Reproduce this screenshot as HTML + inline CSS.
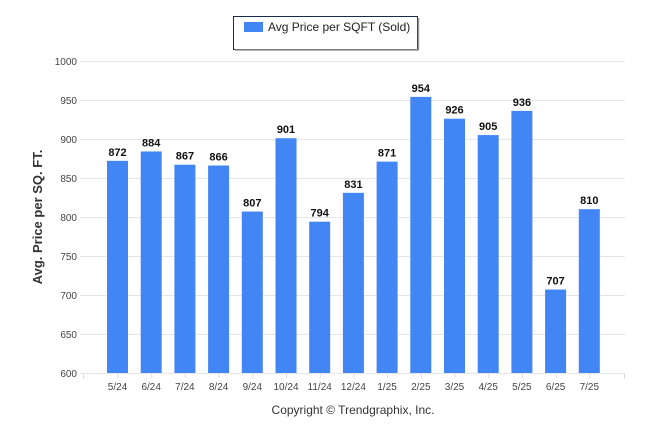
<!DOCTYPE html>
<html><head><meta charset="utf-8"><style>
body{margin:0;background:#fff;}
svg{display:block;font-family:"Liberation Sans",sans-serif;}
</style></head><body>
<svg id="c" width="646" height="434">
<g>
<rect x="233.5" y="16.5" width="184" height="33" fill="#fff" stroke="#1c2a4a" stroke-width="1"/>
<line x1="235" y1="50" x2="419" y2="50" stroke="#999" stroke-width="1.5"/>
<line x1="418.5" y1="18" x2="418.5" y2="50" stroke="#999" stroke-width="1.5"/>
<rect x="244" y="22" width="19" height="10" fill="#4285f4"/>
<text x="268" y="31" font-size="12" fill="#222">Avg Price per SQFT (Sold)</text>
</g>
<text transform="translate(42,217) rotate(-90)" text-anchor="middle" font-size="13" font-weight="bold" fill="#333">Avg. Price per SQ. FT.</text>
<text x="353" y="414" text-anchor="middle" font-size="12" fill="#333">Copyright © Trendgraphix, Inc.</text>
<g id="grid"></g><g id="bars"></g>
</svg>
<script>
const categories=["5/24","6/24","7/24","8/24","9/24","10/24","11/24","12/24","1/25","2/25","3/25","4/25","5/25","6/25","7/25"];
const values=[872,884,867,866,807,901,794,831,871,954,926,905,936,707,810];
const yTicks=[600,650,700,750,800,850,900,950,1000];
const NS="http://www.w3.org/2000/svg";
const yMin=600,yMax=1000,plotTop=61,plotBottom=373;
const y=v=>plotBottom-(v-yMin)/(yMax-yMin)*(plotBottom-plotTop);
const x=i=>117.5+i*33.7;
const grid=document.getElementById('grid'),bars=document.getElementById('bars');
function mk(tag,attrs,parent,text){const e=document.createElementNS(NS,tag);for(const k in attrs)e.setAttribute(k,attrs[k]);if(text!==undefined)e.textContent=text;parent.appendChild(e);return e;}
yTicks.forEach(t=>{
 const l=mk('line',{x1:80,x2:625,y1:y(t)+0.5,y2:y(t)+0.5,stroke:'#e6e6e6'},grid);
 
 
 const tx=mk('text',{x:77,y:y(t)+4,'text-anchor':'end','font-size':'10',fill:'#444'},grid,t);
 
 
});
mk('line',{x1:83.5,x2:83.5,y1:373,y2:379,stroke:'#ddd'},grid);
mk('line',{x1:624.5,x2:624.5,y1:373,y2:379,stroke:'#ddd'},grid);
categories.forEach((c,i)=>{
 const v=values[i];
 const r=mk('rect',{x:x(i)-10.5,y:y(v),width:21,height:plotBottom-y(v),fill:'#4285f4'},bars);
 
 
 const vl=mk('text',{x:x(i),y:y(v)-5,'text-anchor':'middle','font-size':'11','font-weight':'bold',fill:'#111'},bars,v);
 
 
 mk('line',{x1:x(i)+0.5,x2:x(i)+0.5,y1:373,y2:378,stroke:'#ddd'},grid);
 const xl=mk('text',{x:x(i),y:390,'text-anchor':'middle','font-size':'10',fill:'#444'},bars,c);
 
 
});
</script>
</body></html>
